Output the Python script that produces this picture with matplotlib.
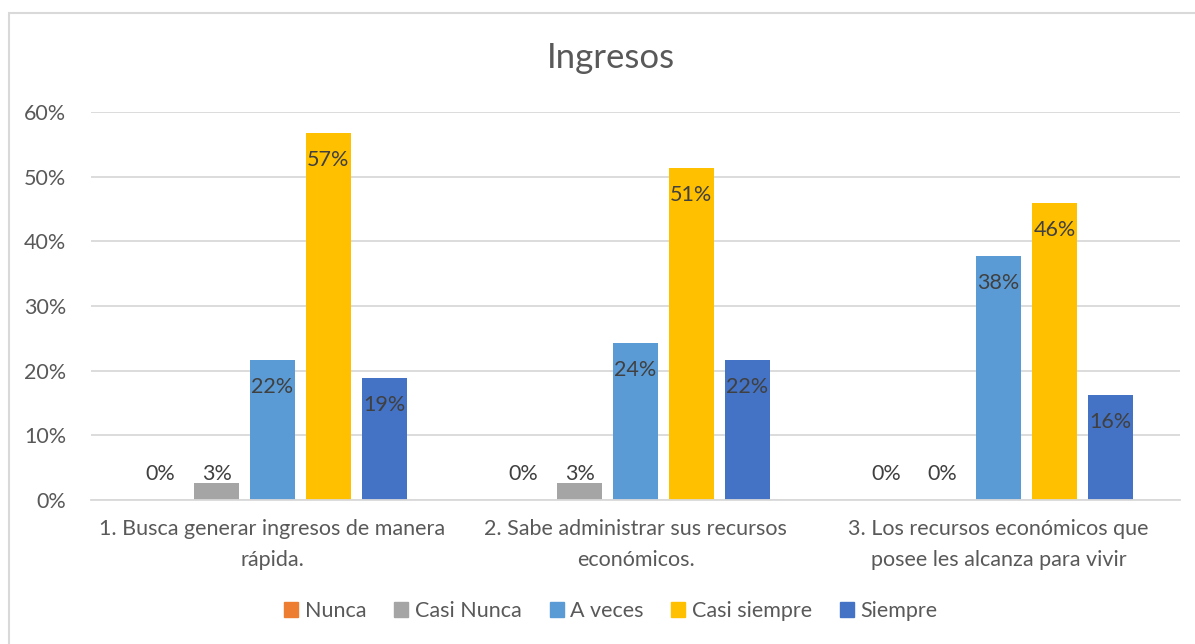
import matplotlib.pyplot as plt
import numpy as np
from matplotlib.patches import Rectangle, Patch
from matplotlib.ticker import PercentFormatter

plt.rcParams['font.family'] = ['Lato', 'DejaVu Sans']

# data
categories = ["1. Busca generar ingresos de manera\nrápida.",
              "2. Sabe administrar sus recursos\neconómicos.",
              "3. Los recursos económicos que\nposee les alcanza para vivir"]
series = ["Nunca", "Casi Nunca", "A veces", "Casi siempre", "Siempre"]
nunca = [0.0, 0.0, 0.0]
casi_nunca = [0.027, 0.027, 0.0]
a_veces = [0.216, 0.243, 0.378]
casi_siempre = [0.568, 0.514, 0.459]
siempre = [0.189, 0.216, 0.162]
colors = ["#ED7D31", "#A5A5A5", "#5B9BD5", "#FFC000", "#4472C4"]

values = [nunca, casi_nunca, a_veces, casi_siempre, siempre]

W, H = 1195, 644
fs = 15.5
fig = plt.figure(figsize=(W / 100, H / 100), dpi=100)
ax = fig.add_axes([91 / W, 144 / H, 1089 / W, 388 / H])

# chart border (only top and left visible in the crop)
fig.patches.append(Rectangle((9 / W, -0.1), 1.2, (H - 13) / H + 0.1,
                             transform=fig.transFigure, fill=False,
                             edgecolor="#D9D9D9", lw=1.5))

x = np.arange(len(categories))
step = 0.154
width = 0.124
for i, (name, vals, col) in enumerate(zip(series, values, colors)):
    pos = x + (i - 2) * step
    ax.bar(pos, vals, width, color=col, label=name, zorder=2)
    for px, v in zip(pos, vals):
        ax.text(px, max(v - 0.042, 0.04), f"{v * 100:.0f}%", ha="center",
                va="center", fontsize=fs, color="#404040", zorder=3)

ax.set_xlim(-0.5, 2.5)
ax.set_ylim(0, 0.6)
ax.set_yticks(np.arange(0, 0.61, 0.1))
ax.yaxis.set_major_formatter(PercentFormatter(1.0, decimals=0))
ax.set_xticks(x)
ax.set_xticklabels(categories, fontsize=fs, color="#595959", linespacing=1.68)
ax.tick_params(axis="y", length=0, pad=18, labelsize=fs, labelcolor="#595959")
ax.tick_params(axis="x", length=0, pad=14)
ax.grid(axis="y", color="#D9D9D9", lw=1.3, zorder=0)
for s in ["top", "right", "left"]:
    ax.spines[s].set_visible(False)
ax.spines["bottom"].set_color("#D9D9D9")
ax.spines["bottom"].set_linewidth(1.3)

fig.text(611 / W, 1 - 58 / H, "Ingresos", ha="center", va="center",
         fontsize=25, color="#595959")

handles = [Patch(color=c, label=s) for s, c in zip(series, colors)]
fig.legend(handles=handles, loc="center", bbox_to_anchor=(611 / W, 1 - 611 / H),
           ncol=5, frameon=False, fontsize=fs, handlelength=0.65,
           handleheight=0.65, handletextpad=0.3, columnspacing=1.3,
           labelcolor="#595959")

fig.savefig("out.png", dpi=100)
